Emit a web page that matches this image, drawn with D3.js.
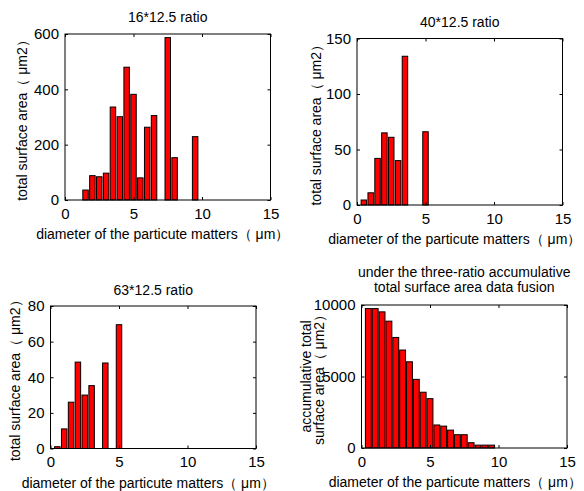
<!DOCTYPE html>
<html>
<head>
<meta charset="utf-8">
<script src="https://cdn.jsdelivr.net/npm/d3@7"></script>
<style>
  body { margin: 0; background: #fff; }
  svg { display: block; font-family: "Liberation Sans", Arial, sans-serif; }
  .tick text { font-size: 15px; fill: #000; }
</style>
</head>
<body>
<svg id="chart" width="584" height="491"></svg>
<script>
// bin centers (µm) and total surface area per bin
const centers16 = [1.5, 2, 2.5, 3, 3.5, 4, 4.5, 5, 5.5, 6, 6.5, 7, 7.5, 8, 8.5, 9, 9.5];
const area16    = [36, 88, 84, 97, 336, 301, 480, 382, 80, 263, 305, 0, 587, 153, 0, 0, 229];

const centers40 = [0.5, 1, 1.5, 2, 2.5, 3, 3.5, 4, 4.5, 5];
const area40    = [4.5, 11, 42, 65, 61, 40, 134, 0, 0, 66];

const centers63 = [0.5, 1, 1.5, 2, 2.5, 3, 3.5, 4, 4.5, 5];
const area63    = [1, 11, 26, 48.5, 30, 35.3, 0, 48, 0, 69.5];

const centersAcc = [0.5, 1, 1.5, 2, 2.5, 3, 3.5, 4, 4.5, 5, 5.5, 6, 6.5, 7, 7.5, 8, 8.5, 9, 9.5];
const areaAcc    = [9750, 9750, 9520, 8870, 7730, 6850, 6030, 4800, 3900, 3450,
                    1610, 1530, 1250, 930, 930, 370, 200, 200, 200];

const xTicks = [0, 5, 10, 15];
const xLabel = "diameter of the particute matters（ μm）";

const panels = [
  { box: [65, 34, 270.5, 200], title: ["16*12.5 ratio"], titleY: 22,
    yLabel: ["total surface area（ μm2）"], yLabelX: 27, barW: 0.8, xLabelDx: -5,
    yMax: 600, yTicks: [0, 200, 400, 600], centers: centers16, values: area16 },
  { box: [357, 38.5, 562.5, 205], title: ["40*12.5 ratio"], titleY: 27,
    yLabel: ["total surface area（ μm2）"], yLabelX: 321, barW: 0.8, xLabelDx: -5,
    yMax: 150, yTicks: [0, 50, 100, 150], centers: centers40, values: area40 },
  { box: [50.5, 306, 256, 448.5], title: ["63*12.5 ratio"], titleY: 295,
    yLabel: ["total surface area（ μm2）"], yLabelX: 20, barW: 0.8, xLabelDx: -5,
    yMax: 80, yTicks: [0, 20, 40, 60, 80], centers: centers63, values: area63 },
  { box: [361.5, 305, 567, 448], title: ["under the three-ratio accumulative", "total surface area data fusion"], titleY: 277,
    yLabel: ["accumulative total", "surface area（ μm2）"], yLabelX: 311, barW: 0.86, xLabelDx: -9,
    yMax: 10000, yTicks: [0, 5000, 10000], centers: centersAcc, values: areaAcc }
];

const svg = d3.select("#chart");

panels.forEach(p => {
  const [x0, y0, x1, y1] = p.box;
  const x = d3.scaleLinear().domain([0, 15]).range([x0, x1]);
  const y = d3.scaleLinear().domain([0, p.yMax]).range([y1, y0]);
  const g = svg.append("g");

  // bars
  const bw = 0.5 * p.barW;
  g.selectAll("rect.bar")
    .data(p.centers.map((c, i) => ({ c, v: p.values[i] })))
    .enter().append("rect")
    .attr("class", "bar")
    .attr("x", d => x(d.c - bw / 2))
    .attr("width", d => x(d.c + bw / 2) - x(d.c - bw / 2))
    .attr("y", d => y(d.v))
    .attr("height", d => y(0) - y(d.v))
    .attr("fill", "#ff0000")
    .attr("stroke", "#000")
    .attr("stroke-width", 1);

  // axes, ticks inward, box on
  const tl = 3;
  g.append("g").attr("transform", `translate(0,${y1})`)
    .call(d3.axisBottom(x).tickValues(xTicks).tickSizeInner(-tl).tickSizeOuter(0).tickPadding(8));
  g.append("g").attr("transform", `translate(0,${y0})`)
    .call(d3.axisTop(x).tickValues(xTicks).tickSizeInner(-tl).tickSizeOuter(0).tickFormat(""));
  g.append("g").attr("transform", `translate(${x0},0)`)
    .call(d3.axisLeft(y).tickValues(p.yTicks).tickSizeInner(-tl).tickSizeOuter(0).tickPadding(6)
      .tickFormat(d3.format("d")));
  g.append("g").attr("transform", `translate(${x1},0)`)
    .call(d3.axisRight(y).tickValues(p.yTicks).tickSizeInner(-tl).tickSizeOuter(0).tickFormat(""));
  g.selectAll(".domain").remove();
  g.selectAll(".tick line").attr("stroke", "#000");
  g.append("rect")
    .attr("x", x0).attr("y", y0)
    .attr("width", x1 - x0).attr("height", y1 - y0)
    .attr("fill", "none").attr("stroke", "#000").attr("stroke-width", 1);

  // title
  p.title.forEach((t, i) => {
    g.append("text")
      .attr("x", (x0 + x1) / 2).attr("y", p.titleY + i * 15)
      .attr("text-anchor", "middle")
      .attr("font-size", 14)
      .text(t);
  });

  // x label
  g.append("text")
    .attr("x", (x0 + x1) / 2 + p.xLabelDx).attr("y", y1 + 39)
    .attr("text-anchor", "middle")
    .attr("font-size", 14)
    .text(xLabel);

  // y label
  const yc = (y0 + y1) / 2;
  p.yLabel.forEach((t, i) => {
    g.append("text")
      .attr("transform", `translate(${p.yLabelX + i * 13},${yc}) rotate(-90)`)
      .attr("text-anchor", "middle")
      .attr("font-size", 14)
      .text(t);
  });
});
</script>
</body>
</html>
